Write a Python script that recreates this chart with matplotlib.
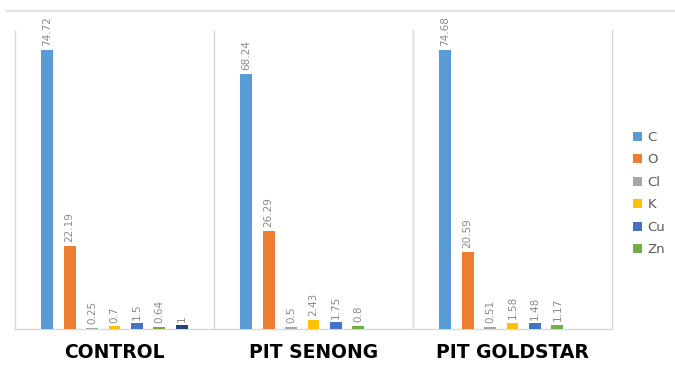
import matplotlib
matplotlib.use("Agg")
import matplotlib.pyplot as plt
import numpy as np

categories = ["CONTROL", "PIT SENONG", "PIT GOLDSTAR"]
elements = ["C", "O", "Cl", "K", "Cu", "Zn", ""]
c_vals = [74.72, 68.24, 74.68]
o_vals = [22.19, 26.29, 20.59]
cl_vals = [0.25, 0.5, 0.51]
k_vals = [0.7, 2.43, 1.58]
cu_vals = [1.5, 1.75, 1.48]
zn_vals = [0.64, 0.8, 1.17]
extra_vals = [1, np.nan, np.nan]  # seventh series, shown only for CONTROL, not in legend

series = [c_vals, o_vals, cl_vals, k_vals, cu_vals, zn_vals, extra_vals]
colors = ["#5B9BD5", "#ED7D31", "#A5A5A5", "#FFC000", "#4472C4", "#70AD47", "#264478"]

fig = plt.figure(figsize=(6.75, 3.68), dpi=100)
ax = fig.add_axes([0.0222, 0.106, 0.8845, 0.812])

x = np.arange(len(categories))
slot = 0.1126
width = 0.06
n = len(series)

handles = []
for i, (vals, col) in enumerate(zip(series, colors)):
    pos = x + (i - (n - 1) / 2) * slot
    bars = ax.bar(pos, vals, width=width, color=col, zorder=3)
    if elements[i]:
        handles.append((bars, elements[i]))
    for p, v in zip(pos, vals):
        if np.isnan(v):
            continue
        ax.text(p, v + 1.0, "{:g}".format(v), rotation=90, ha="center", va="bottom",
                fontsize=7.5, color="#8a8a8a")

ax.set_xlim(-0.5, 2.5)
ax.set_ylim(0, 80)
ax.set_yticks([])
ax.set_xticks(x)
ax.set_xticklabels(categories, fontsize=13.5, fontweight="heavy", color="black")
ax.tick_params(axis="x", length=0, pad=10)
ax.spines["top"].set_visible(False)
for s in ["left", "right", "bottom"]:
    ax.spines[s].set_color("#d9d9d9")
    ax.spines[s].set_linewidth(1)
for b in [0.5, 1.5]:
    ax.axvline(b, color="#d9d9d9", lw=1, zorder=1)

leg = fig.legend([h for h, _ in handles], [l for _, l in handles], loc="center left",
                 bbox_to_anchor=(0.92, 0.474), frameon=False, fontsize=9.5,
                 handlelength=0.7, handleheight=0.7, handletextpad=0.4,
                 labelspacing=0.72, labelcolor="#595959")

fig.add_artist(plt.Line2D([0.01, 1.0], [0.97, 0.97], transform=fig.transFigure,
                          color="#e3e3e3", lw=1.5))

fig.savefig("out.png", dpi=100, facecolor="white")
